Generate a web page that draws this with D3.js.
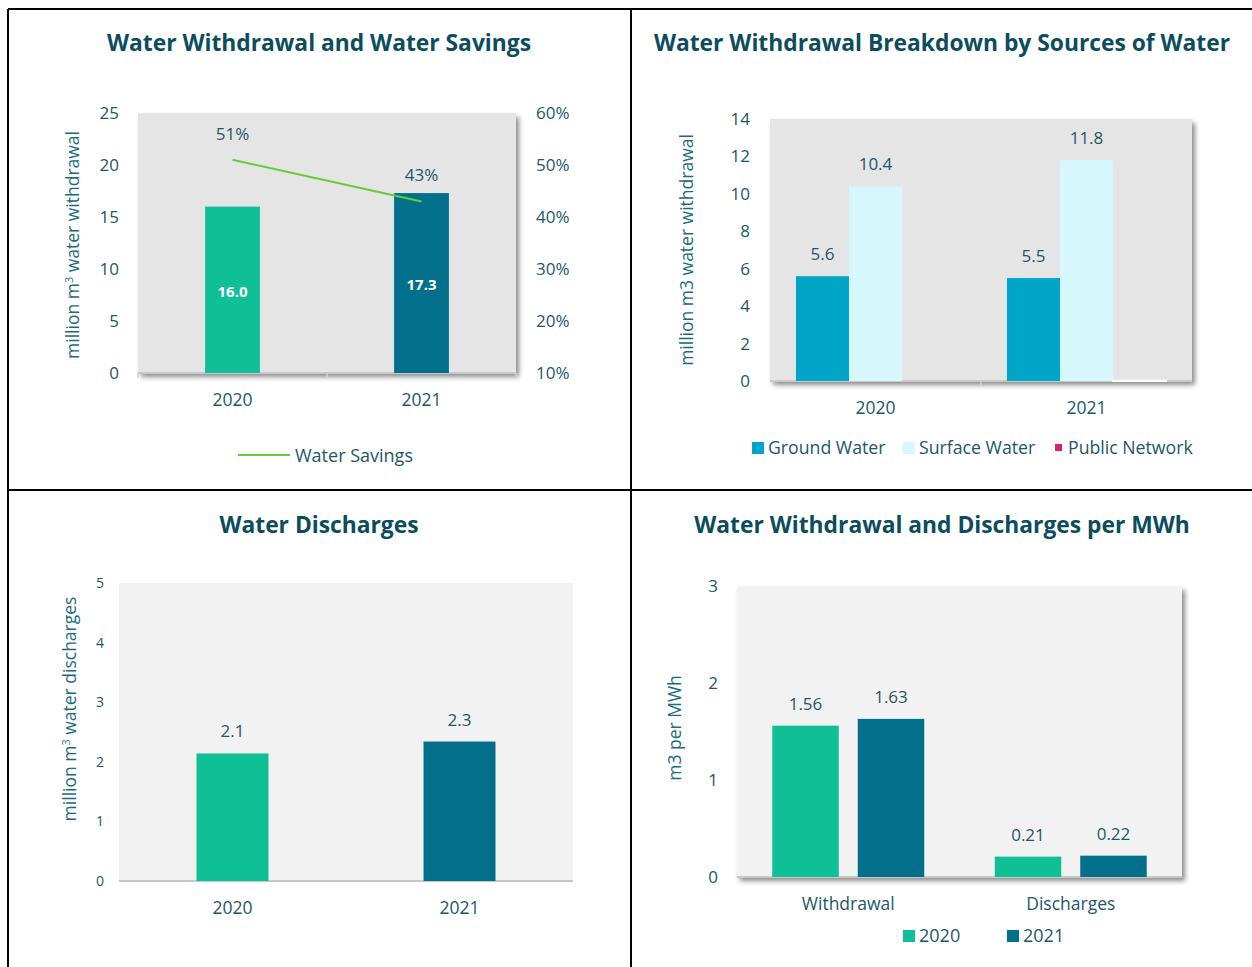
<!DOCTYPE html>
<html>
<head>
<meta charset="utf-8">
<script src="https://cdn.jsdelivr.net/npm/d3@7"></script>
<style>
  body { margin: 0; background: #fff; }
  text { font-family: "Open Sans", "Noto Sans", sans-serif; }
</style>
</head>
<body>
<script>
// ---- data ----
const years = ['2020', '2021'];

// panel 1: withdrawal (million m3) and savings (%)
const withdrawal = [16.0, 17.3];
const savings = [51, 43];

// panel 2: breakdown by source
const sources = ['Ground Water', 'Surface Water', 'Public Network'];
const groundWater = [5.6, 5.5];
const surfaceWater = [10.4, 11.8];
const publicNetwork = [0, 0.01];

// panel 3: discharges
const discharges = [2.14, 2.34];

// panel 4: per MWh
const perMwhCats = ['Withdrawal', 'Discharges'];
const perMwh2020 = [1.56, 0.21];
const perMwh2021 = [1.63, 0.22];

// ---- styles ----
const green = '#0fbf96', teal = '#03708b';
const titleColor = '#0b4d5c', textColor = '#1b5868', axisTitleColor = '#1c6a7c';
const W = 1252, H = 967;

const svg = d3.select('body').append('svg')
    .attr('width', W)
    .attr('height', H);

const defs = svg.append('defs');
const f = defs.append('filter').attr('id', 'shadow')
    .attr('x', '-5%').attr('y', '-5%').attr('width', '115%').attr('height', '115%');
f.append('feDropShadow')
    .attr('dx', 3).attr('dy', 4).attr('stdDeviation', 2.5)
    .attr('flood-color', '#000').attr('flood-opacity', 0.45);

// frame
svg.append('g').attr('stroke', '#000').attr('stroke-width', 2).selectAll('line')
    .data([[8, 9, W, 9], [8, 9, 8, H], [631, 9, 631, H], [8, 490, W, 490]])
    .enter().append('line')
    .attr('x1', d => d[0]).attr('y1', d => d[1])
    .attr('x2', d => d[2]).attr('y2', d => d[3]);

function title(x, y, t) {
    svg.append('text').attr('x', x).attr('y', y)
        .attr('text-anchor', 'middle')
        .attr('font-size', 22.8).attr('font-weight', 700)
        .attr('fill', titleColor).text(t);
}

function plotBg(x0, x1, y0, y1, fill, shadow) {
    svg.append('rect')
        .attr('x', x0).attr('y', y0)
        .attr('width', x1 - x0).attr('height', y1 - y0)
        .attr('fill', fill)
        .attr('filter', shadow ? 'url(#shadow)' : null);
    // bottom axis line
    svg.append('line')
        .attr('x1', x0).attr('x2', x1).attr('y1', y1).attr('y2', y1)
        .attr('stroke', '#c8c8c8').attr('stroke-width', 2);
}

function yAxis(scale, x, ticks, fmt, size, side) {
    const ax = (side === 'right' ? d3.axisRight(scale) : d3.axisLeft(scale))
        .tickValues(ticks).tickFormat(fmt).tickSize(0).tickPadding(0);
    const g = svg.append('g').attr('transform', `translate(${x},0)`).call(ax);
    g.select('.domain').remove();
    g.selectAll('text').attr('font-size', size).attr('fill', textColor)
        .attr('font-family', '"Open Sans", sans-serif');
}

function xAxis(scale, y, size) {
    const g = svg.append('g').attr('transform', `translate(0,${y})`)
        .call(d3.axisBottom(scale).tickSize(0).tickPadding(0));
    g.select('.domain').remove();
    g.selectAll('text').attr('font-size', size).attr('fill', textColor)
        .attr('font-family', '"Open Sans", sans-serif');
}

function yTitle(x, y, parts, size) {
    const t = svg.append('text')
        .attr('transform', `translate(${x},${y}) rotate(-90)`)
        .attr('text-anchor', 'middle')
        .attr('font-size', size).attr('fill', axisTitleColor);
    parts.forEach(p => {
        const s = t.append('tspan').text(p.t);
        if (p.sup) s.attr('font-size', size * 0.62).attr('baseline-shift', '55%');
    });
}

function label(x, y, t, opts = {}) {
    svg.append('text').attr('x', x).attr('y', y)
        .attr('text-anchor', 'middle')
        .attr('font-size', opts.size || 17)
        .attr('font-weight', opts.bold ? 700 : 400)
        .attr('fill', opts.fill || textColor)
        .text(t);
}

// ================= Panel 1 =================
{
    const x0 = 138, x1 = 516, y0 = 113, y1 = 373;
    title(319, 51, 'Water Withdrawal and Water Savings');
    plotBg(x0, x1, y0, y1, '#e5e5e5', true);
    // tick marks at band edges
    const x = d3.scaleBand().domain(years).range([x0, x1]);
    svg.append('g').selectAll('line').data([x0, x(years[1]), x1]).enter().append('line')
        .attr('x1', d => d).attr('x2', d => d).attr('y1', y1).attr('y2', y1 + 5)
        .attr('stroke', '#d0d0d0').attr('stroke-width', 1.5);

    const y = d3.scaleLinear().domain([0, 25]).range([y1, y0]);
    const y2 = d3.scaleLinear().domain([10, 60]).range([y1, y0]);
    const bw = x.bandwidth() * 0.29;
    const cx = d => x(d) + x.bandwidth() / 2;

    svg.append('g').selectAll('rect').data(years).enter().append('rect')
        .attr('x', d => cx(d) - bw / 2)
        .attr('y', (d, i) => y(withdrawal[i]))
        .attr('width', bw)
        .attr('height', (d, i) => y1 - y(withdrawal[i]))
        .attr('fill', (d, i) => i === 0 ? green : teal);

    years.forEach((d, i) => {
        label(cx(d), (y(withdrawal[i]) + y1) / 2 + 7, withdrawal[i].toFixed(1), { bold: true, fill: '#fff', size: 15 });
    });

    const line = d3.line().x((d, i) => cx(years[i])).y(d => y2(d));
    svg.append('path').datum(savings)
        .attr('d', line).attr('fill', 'none')
        .attr('stroke', '#66cc33').attr('stroke-width', 2);
    savings.forEach((v, i) => label(cx(years[i]), y2(v) - 20, v + '%'));

    yAxis(y, 119, d3.range(0, 26, 5), d3.format('d'), 17, 'left');
    yAxis(y2, 536, d3.range(10, 61, 10), d => d + '%', 17, 'right');
    xAxis(x, 394, 17.5);
    yTitle(79, 245, [{ t: 'million m' }, { t: '3', sup: true }, { t: ' water withdrawal' }], 17.5);

    // legend
    svg.append('line').attr('x1', 238).attr('x2', 290).attr('y1', 455).attr('y2', 455)
        .attr('stroke', '#66cc33').attr('stroke-width', 2);
    svg.append('text').attr('x', 295).attr('y', 462).attr('font-size', 18)
        .attr('fill', textColor).text('Water Savings');
}

// ================= Panel 2 =================
{
    const x0 = 770, x1 = 1192, y0 = 119, y1 = 381;
    title(942, 51, 'Water Withdrawal Breakdown by Sources of Water');
    plotBg(x0, x1, y0, y1, '#e5e5e5', true);
    const x = d3.scaleBand().domain(years).range([x0, x1]);
    svg.append('line').attr('x1', x(years[1])).attr('x2', x(years[1]))
        .attr('y1', y1).attr('y2', y1 + 5).attr('stroke', '#d0d0d0').attr('stroke-width', 1.5);
    const y = d3.scaleLinear().domain([0, 14]).range([y1, y0]);
    const gw = x.bandwidth() * 0.754;
    const xi = d3.scaleBand().domain(sources).range([0, gw]);
    const colors = ['#00a5c8', '#d6f7fb', '#d6246e'];
    const series = [groundWater, surfaceWater, publicNetwork];

    years.forEach((yr, i) => {
        const gx = x(yr) + (x.bandwidth() - gw) / 2;
        sources.forEach((s, k) => {
            const v = series[k][i];
            if (v <= 0) return;
            svg.append('rect')
                .attr('x', gx + xi(s)).attr('y', y(v))
                .attr('width', xi.bandwidth()).attr('height', y1 - y(v))
                .attr('fill', colors[k])
                .attr('stroke', k === 2 ? '#fff' : 'none')
                .attr('stroke-width', k === 2 ? 2 : 0);
            if (k < 2) label(gx + xi(s) + xi.bandwidth() / 2, y(v) - 16, v.toFixed(1));
        });
    });

    yAxis(y, 750, d3.range(0, 15, 2), d3.format('d'), 17, 'left');
    xAxis(x, 402, 17.5);
    yTitle(693, 250, [{ t: 'million m3 water withdrawal' }], 17.5);

    // legend
    const lx = [752, 903, 1055];
    sources.forEach((s, k) => {
        const sz = k === 2 ? 7 : 12;
        svg.append('rect').attr('x', lx[k]).attr('y', k === 2 ? 444 : 442)
            .attr('width', sz).attr('height', sz).attr('fill', colors[k]);
        svg.append('text').attr('x', lx[k] + (k === 2 ? 13 : 16)).attr('y', 454)
            .attr('font-size', 17.7).attr('fill', textColor).text(s);
    });
}

// ================= Panel 3 =================
{
    const x0 = 119, x1 = 573, y0 = 583, y1 = 881;
    title(319, 533, 'Water Discharges');
    plotBg(x0, x1, y0, y1, '#f2f2f2', false);
    const x = d3.scaleBand().domain(years).range([x0, x1]);
    const y = d3.scaleLinear().domain([0, 5]).range([y1, y0]);
    const bw = x.bandwidth() * 0.317;
    const cx = d => x(d) + x.bandwidth() / 2;
    svg.append('g').selectAll('rect').data(years).enter().append('rect')
        .attr('x', d => cx(d) - bw / 2)
        .attr('y', (d, i) => y(discharges[i]))
        .attr('width', bw)
        .attr('height', (d, i) => y1 - y(discharges[i]))
        .attr('fill', (d, i) => i === 0 ? green : teal);
    years.forEach((d, i) => label(cx(d), y(discharges[i]) - 16, discharges[i].toFixed(1)));

    yAxis(y, 104, d3.range(0, 6, 1), d3.format('d'), 14, 'left');
    xAxis(x, 902, 17.5);
    yTitle(76, 709, [{ t: 'million m' }, { t: '3', sup: true }, { t: ' water discharges' }], 17.5);
}

// ================= Panel 4 =================
{
    const x0 = 737, x1 = 1182, y0 = 586, y1 = 877;
    title(942, 533, 'Water Withdrawal and Discharges per MWh');
    plotBg(x0, x1, y0, y1, '#f2f2f2', true);
    const x = d3.scaleBand().domain(perMwhCats).range([x0, x1]);
    const y = d3.scaleLinear().domain([0, 3]).range([y1, y0]);
    const gw = x.bandwidth() * 0.683;
    const xi = d3.scaleBand().domain(years).range([0, gw]).paddingInner(0.222);
    const series = [perMwh2020, perMwh2021];
    const colors = [green, teal];

    perMwhCats.forEach((c, i) => {
        const gx = x(c) + (x.bandwidth() - gw) / 2;
        years.forEach((yr, k) => {
            const v = series[k][i];
            svg.append('rect')
                .attr('x', gx + xi(yr)).attr('y', y(v))
                .attr('width', xi.bandwidth()).attr('height', y1 - y(v))
                .attr('fill', colors[k]);
            label(gx + xi(yr) + xi.bandwidth() / 2, y(v) - 16, v.toFixed(2));
        });
    });

    yAxis(y, 718, d3.range(0, 4, 1), d3.format('d'), 17, 'left');
    xAxis(x, 898, 17.5);
    yTitle(681, 728, [{ t: 'm3 per MWh' }], 17.5);

    const lx = [903, 1007];
    years.forEach((yr, k) => {
        svg.append('rect').attr('x', lx[k]).attr('y', 930)
            .attr('width', 12).attr('height', 12).attr('fill', colors[k]);
        svg.append('text').attr('x', lx[k] + 16).attr('y', 942)
            .attr('font-size', 18).attr('fill', textColor).text(yr);
    });
}
</script>
</body>
</html>
